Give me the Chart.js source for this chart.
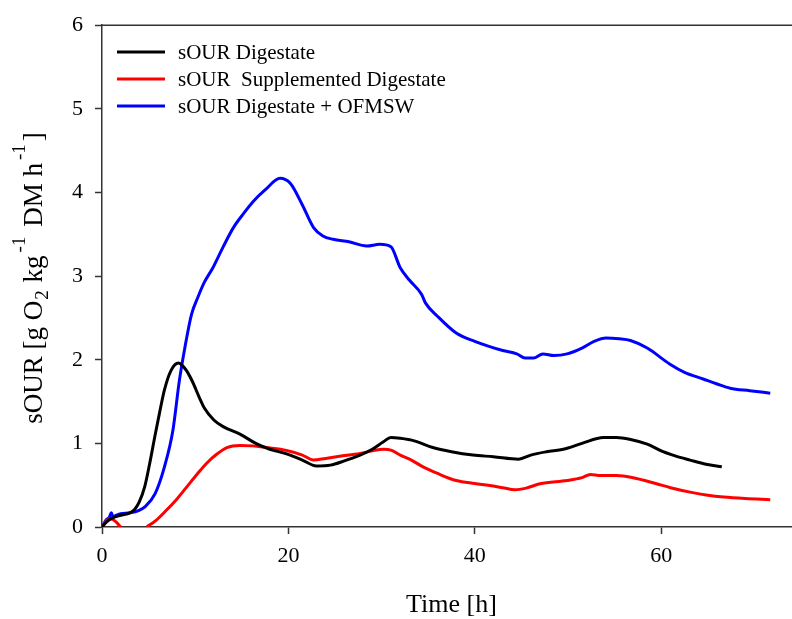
<!DOCTYPE html>
<html>
<head>
<meta charset="utf-8">
<script src="https://cdn.jsdelivr.net/npm/chart.js@4"></script>
<style>
html,body{margin:0;padding:0;background:#fff;overflow:hidden;width:792px;height:619px;}
canvas{display:block;}
</style>
</head>
<body>
<canvas id="c" width="801" height="619"></canvas>
<script>
// ---- Data ----
const seriesLabels = ["sOUR Digestate", "sOUR  Supplemented Digestate", "sOUR Digestate + OFMSW"];
const seriesColors = ["#000000", "#ff0000", "#0000ff"];

const timeDigestate = [0, 0.5, 1, 2, 3, 3.5, 4, 4.6, 5.1, 5.7, 6.2, 6.7, 7.4, 8.2, 9, 9.7, 10.4, 11, 12, 13, 14.8, 16.5, 18, 19.8, 21.5, 23, 24.5, 26, 27.5, 29, 30.2, 31, 32, 33.5, 35.5, 37.5, 39.8, 42, 44.7, 46, 47.7, 49.5, 51.5, 53.8, 55.2, 56.6, 58.5, 60.2, 61.5, 63.1, 64.8, 66.5];
const sourDigestate = [0, 0.06, 0.1, 0.14, 0.17, 0.21, 0.3, 0.49, 0.75, 1.1, 1.38, 1.64, 1.87, 1.96, 1.88, 1.74, 1.56, 1.42, 1.28, 1.2, 1.11, 1.0, 0.93, 0.875, 0.8, 0.73, 0.74, 0.79, 0.85, 0.93, 1.02, 1.07, 1.06, 1.03, 0.95, 0.9, 0.86, 0.84, 0.81, 0.86, 0.9, 0.93, 1.0, 1.07, 1.07, 1.05, 0.99, 0.9, 0.85, 0.8, 0.75, 0.72];

const timeSupplemented = [0, 0.5, 1, 1.5, 2, 3.4, 4.8, 5.8, 6.9, 8, 9.1, 10.2, 11.2, 12.3, 13.4, 14.8, 16.2, 17.6, 19.8, 21.5, 22.7, 24, 25.5, 27.7, 29, 30.2, 31, 32, 33.2, 34.5, 36, 38, 40, 41.6, 43, 44.3, 45.5, 47, 49.9, 51.5, 52.4, 53.5, 55.2, 57, 59.5, 61, 63.1, 65, 66.7, 69, 71.7];
const sourSupplemented = [0, 0.08, 0.1, 0.06, 0, null, 0, 0.08, 0.2, 0.33, 0.48, 0.63, 0.76, 0.87, 0.95, 0.975, 0.97, 0.95, 0.915, 0.86, 0.8, 0.82, 0.845, 0.88, 0.91, 0.93, 0.92, 0.86, 0.8, 0.715, 0.64, 0.556, 0.52, 0.497, 0.47, 0.445, 0.465, 0.517, 0.556, 0.59, 0.628, 0.615, 0.616, 0.59, 0.517, 0.47, 0.417, 0.38, 0.358, 0.34, 0.326];

const timeOFMSW = [0, 0.4, 0.8, 1.0, 1.2, 1.5, 2, 3, 4, 4.6, 5.7, 6.7, 7.6, 8.3, 8.9, 9.6, 10.3, 11, 11.9, 13, 14.1, 15.2, 16.2, 17.5, 19.1, 20.2, 21.5, 22.7, 23.7, 24.8, 26.5, 28.4, 29.8, 31, 32, 33, 34.3, 34.7, 36, 38, 40, 43, 44.5, 45.4, 46.3, 47.3, 48.5, 49.9, 51.5, 52.8, 54.1, 55.5, 56.7, 58.5, 60.9, 62.5, 64.5, 66, 67.4, 69.5, 71.7];
const sourOFMSW = [0, 0.08, 0.12, 0.17, 0.12, 0.14, 0.16, 0.17, 0.2, 0.24, 0.4, 0.72, 1.15, 1.75, 2.15, 2.54, 2.75, 2.93, 3.1, 3.35, 3.58, 3.75, 3.89, 4.03, 4.17, 4.11, 3.85, 3.58, 3.48, 3.44, 3.41, 3.36, 3.38, 3.35, 3.1, 2.95, 2.78, 2.68, 2.52, 2.32, 2.22, 2.11, 2.07, 2.02, 2.02, 2.07, 2.05, 2.07, 2.14, 2.22, 2.26, 2.25, 2.23, 2.14, 1.95, 1.85, 1.77, 1.71, 1.66, 1.63, 1.6];

const xTicks = [0, 20, 40, 60];
const yTicks = [0, 1, 2, 3, 4, 5, 6];
const xTitle = "Time [h]";
// y title pieces: [text, kind] kind: n normal, sub, sup
const yTitleParts = [["sOUR [g O", "n"], ["2", "sub"], [" kg", "n"], ["-1", "sup"], [" DM h", "n"], ["-1", "sup"], ["]", "n"]];

// ---- Chart ----
const FONT = '"Liberation Serif", "Times New Roman", serif';
function pts(xs, ys) { return xs.map((x, i) => ({ x: x, y: ys[i] })); }

const yTitlePlugin = {
  id: 'yTitle',
  afterDraw(chart) {
    const ctx = chart.ctx;
    const mainSize = 27, smallSize = 19;
    const gapOf = k => (k === 'sup' ? 3 : (k === 'sub' ? 1 : 0));
    ctx.save();
    const widths = yTitleParts.map(p => {
      ctx.font = (p[1] === 'n' ? mainSize : smallSize) + 'px ' + FONT;
      return ctx.measureText(p[0]).width + 2 * gapOf(p[1]);
    });
    const total = widths.reduce((a, b) => a + b, 0);
    ctx.translate(42, 278);
    ctx.rotate(-Math.PI / 2);
    ctx.fillStyle = '#000';
    ctx.textBaseline = 'alphabetic';
    ctx.textAlign = 'left';
    let x = -total / 2;
    yTitleParts.forEach((p, i) => {
      ctx.font = (p[1] === 'n' ? mainSize : smallSize) + 'px ' + FONT;
      const dy = p[1] === 'sub' ? 6 : (p[1] === 'sup' ? -17 : 0);
      ctx.fillText(p[0], x + gapOf(p[1]), dy);
      x += widths[i];
    });
    ctx.restore();
  }
};

const framePlugin = {
  id: 'frame',
  beforeDatasetsDraw(chart) {
    const ctx = chart.ctx, ca = chart.chartArea;
    ctx.save();
    ctx.strokeStyle = '#333';
    ctx.lineWidth = 1.5;
    ctx.beginPath();
    ctx.moveTo(ca.left, ca.top);
    ctx.lineTo(ca.right, ca.top);
    ctx.stroke();
    ctx.restore();
  }
};

const legendPlugin = {
  id: 'insideLegend',
  afterDatasetsDraw(chart) {
    const ctx = chart.ctx;
    ctx.save();
    chart.data.datasets.forEach((ds, i) => {
      const y = 52 + i * 27;
      ctx.strokeStyle = ds.borderColor;
      ctx.lineWidth = 3;
      ctx.beginPath();
      ctx.moveTo(117, y);
      ctx.lineTo(165, y);
      ctx.stroke();
      ctx.fillStyle = '#000';
      ctx.font = '21px ' + FONT;
      ctx.textBaseline = 'middle';
      ctx.fillText(ds.label, 178, y + 1);
    });
    ctx.restore();
  }
};

function makeDs(i, xs, ys) {
  return {
    label: seriesLabels[i],
    data: pts(xs, ys),
    borderColor: seriesColors[i],
    backgroundColor: seriesColors[i],
    borderWidth: 3,
    pointRadius: 0,
    cubicInterpolationMode: 'monotone',
    spanGaps: false,
    fill: false
  };
}

new Chart(document.getElementById('c'), {
  type: 'line',
  data: {
    datasets: [
      makeDs(0, timeDigestate, sourDigestate),
      makeDs(1, timeSupplemented, sourSupplemented),
      makeDs(2, timeOFMSW, sourOFMSW)
    ]
  },
  options: {
    responsive: false,
    animation: false,
    layout: { padding: { top: 23, left: 0, right: 0, bottom: 0 } },
    plugins: { legend: { display: false }, tooltip: { enabled: false } },
    scales: {
      x: {
        type: 'linear',
        min: 0, max: 75,
        afterBuildTicks: s => { s.ticks = xTicks.map(v => ({ value: v })); },
        afterFit: s => { s.height = 92; },
        grid: { drawOnChartArea: false, drawTicks: true, tickLength: 7, tickColor: '#333', tickWidth: 1.5 },
        border: { display: true, color: '#333', width: 1.5 },
        ticks: { color: '#000', font: { family: FONT, size: 22 }, padding: 9, maxRotation: 0 },
        title: { display: true, text: xTitle, color: '#000', font: { family: FONT, size: 26, lineHeight: 1 }, padding: { top: 0, bottom: 1 } }
      },
      y: {
        type: 'linear',
        min: 0, max: 6,
        afterBuildTicks: s => { s.ticks = yTicks.map(v => ({ value: v })); },
        afterFit: s => { s.width = 102; },
        grid: { drawOnChartArea: false, drawTicks: true, tickLength: 7, tickColor: '#333', tickWidth: 1.5 },
        border: { display: true, color: '#333', width: 1.5 },
        ticks: { color: '#000', font: { family: FONT, size: 22 }, padding: 12 }
      }
    }
  },
  plugins: [framePlugin, legendPlugin, yTitlePlugin]
});
</script>
</body>
</html>
